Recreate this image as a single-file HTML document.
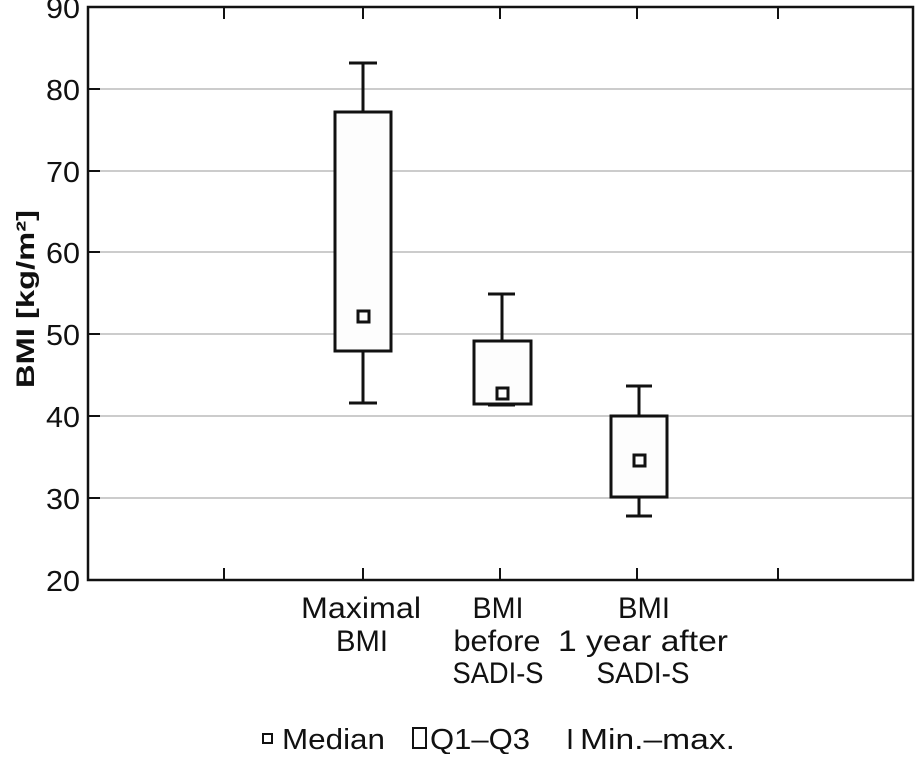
<!DOCTYPE html>
<html><head><meta charset="utf-8"><style>
body{margin:0;background:#fff}
svg text{font-family:"Liberation Sans",sans-serif;fill:#111}
</style></head><body>
<svg width="916" height="754" viewBox="0 0 916 754" xmlns="http://www.w3.org/2000/svg">
<g stroke="#bbb" stroke-width="1.5">
<line x1="88" y1="89" x2="913" y2="89"/><line x1="88" y1="171" x2="913" y2="171"/>
<line x1="88" y1="252" x2="913" y2="252"/><line x1="88" y1="334" x2="913" y2="334"/>
<line x1="88" y1="416" x2="913" y2="416"/><line x1="88" y1="498" x2="913" y2="498"/>
</g>
<rect x="88" y="7" width="825" height="573" fill="none" stroke="#111" stroke-width="2.5"/>
<g stroke="#111" stroke-width="2">
<line x1="88" y1="89" x2="100" y2="89"/><line x1="88" y1="171" x2="100" y2="171"/>
<line x1="88" y1="252" x2="100" y2="252"/><line x1="88" y1="334" x2="100" y2="334"/>
<line x1="88" y1="416" x2="100" y2="416"/><line x1="88" y1="498" x2="100" y2="498"/>
<line x1="224" y1="7" x2="224" y2="19"/><line x1="363" y1="7" x2="363" y2="19"/><line x1="500" y1="7" x2="500" y2="19"/><line x1="637" y1="7" x2="637" y2="19"/><line x1="778" y1="7" x2="778" y2="19"/>
<line x1="224" y1="568" x2="224" y2="580"/><line x1="363" y1="568" x2="363" y2="580"/><line x1="500" y1="568" x2="500" y2="580"/><line x1="637" y1="568" x2="637" y2="580"/><line x1="778" y1="568" x2="778" y2="580"/>
</g>
<g stroke="#111" stroke-width="3" fill="#fdfdfd">
<line x1="363" y1="63" x2="363" y2="403"/><line x1="349" y1="63" x2="377" y2="63"/><line x1="349" y1="403" x2="377" y2="403"/>
<rect x="335" y="112" width="56" height="239"/><rect x="358" y="311" width="11" height="11"/>
<line x1="502" y1="294" x2="502" y2="405"/><line x1="488" y1="294" x2="515" y2="294"/><line x1="488" y1="405" x2="515" y2="405"/>
<rect x="474" y="341" width="57" height="63"/><rect x="497" y="388" width="11" height="11"/>
<line x1="639" y1="386" x2="639" y2="516"/><line x1="626" y1="386" x2="652" y2="386"/><line x1="626" y1="516" x2="652" y2="516"/>
<rect x="611" y="416" width="56" height="81"/><rect x="634" y="455" width="11" height="11"/>
</g>
<g font-size="29" text-anchor="end">
<text x="80" y="18" textLength="34" lengthAdjust="spacingAndGlyphs">90</text><text x="80" y="100" textLength="34" lengthAdjust="spacingAndGlyphs">80</text><text x="80" y="182" textLength="34" lengthAdjust="spacingAndGlyphs">70</text><text x="80" y="263" textLength="34" lengthAdjust="spacingAndGlyphs">60</text>
<text x="80" y="345" textLength="34" lengthAdjust="spacingAndGlyphs">50</text><text x="80" y="427" textLength="34" lengthAdjust="spacingAndGlyphs">40</text><text x="80" y="509" textLength="34" lengthAdjust="spacingAndGlyphs">30</text><text x="80" y="591" textLength="34" lengthAdjust="spacingAndGlyphs">20</text>
</g>
<text transform="translate(34,299) rotate(-90)" font-size="25" font-weight="bold" text-anchor="middle" textLength="178" lengthAdjust="spacingAndGlyphs">BMI [kg/m²]</text>
<g font-size="30" text-anchor="middle">
<text x="361" y="618" textLength="120" lengthAdjust="spacingAndGlyphs">Maximal</text><text x="362" y="651" textLength="52" lengthAdjust="spacingAndGlyphs">BMI</text>
<text x="498" y="618" textLength="51" lengthAdjust="spacingAndGlyphs">BMI</text><text x="497" y="651" textLength="87" lengthAdjust="spacingAndGlyphs">before</text><text x="498" y="683" textLength="91" lengthAdjust="spacingAndGlyphs">SADI-S</text>
<text x="644" y="618" textLength="52" lengthAdjust="spacingAndGlyphs">BMI</text><text x="643" y="651" textLength="170" lengthAdjust="spacingAndGlyphs">1 year after</text><text x="643" y="683" textLength="93" lengthAdjust="spacingAndGlyphs">SADI-S</text>
</g>
<g font-size="29">
<rect x="263" y="734" width="9" height="9" fill="none" stroke="#111" stroke-width="2"/>
<text x="282" y="749" textLength="103" lengthAdjust="spacingAndGlyphs">Median</text>
<rect x="413" y="728" width="13" height="20" fill="none" stroke="#111" stroke-width="2"/>
<text x="430" y="749" textLength="100" lengthAdjust="spacingAndGlyphs">Q1–Q3</text>
<text x="566" y="749">I</text>
<text x="580" y="749" textLength="155" lengthAdjust="spacingAndGlyphs">Min.–max.</text>
</g>
</svg>
</body></html>
